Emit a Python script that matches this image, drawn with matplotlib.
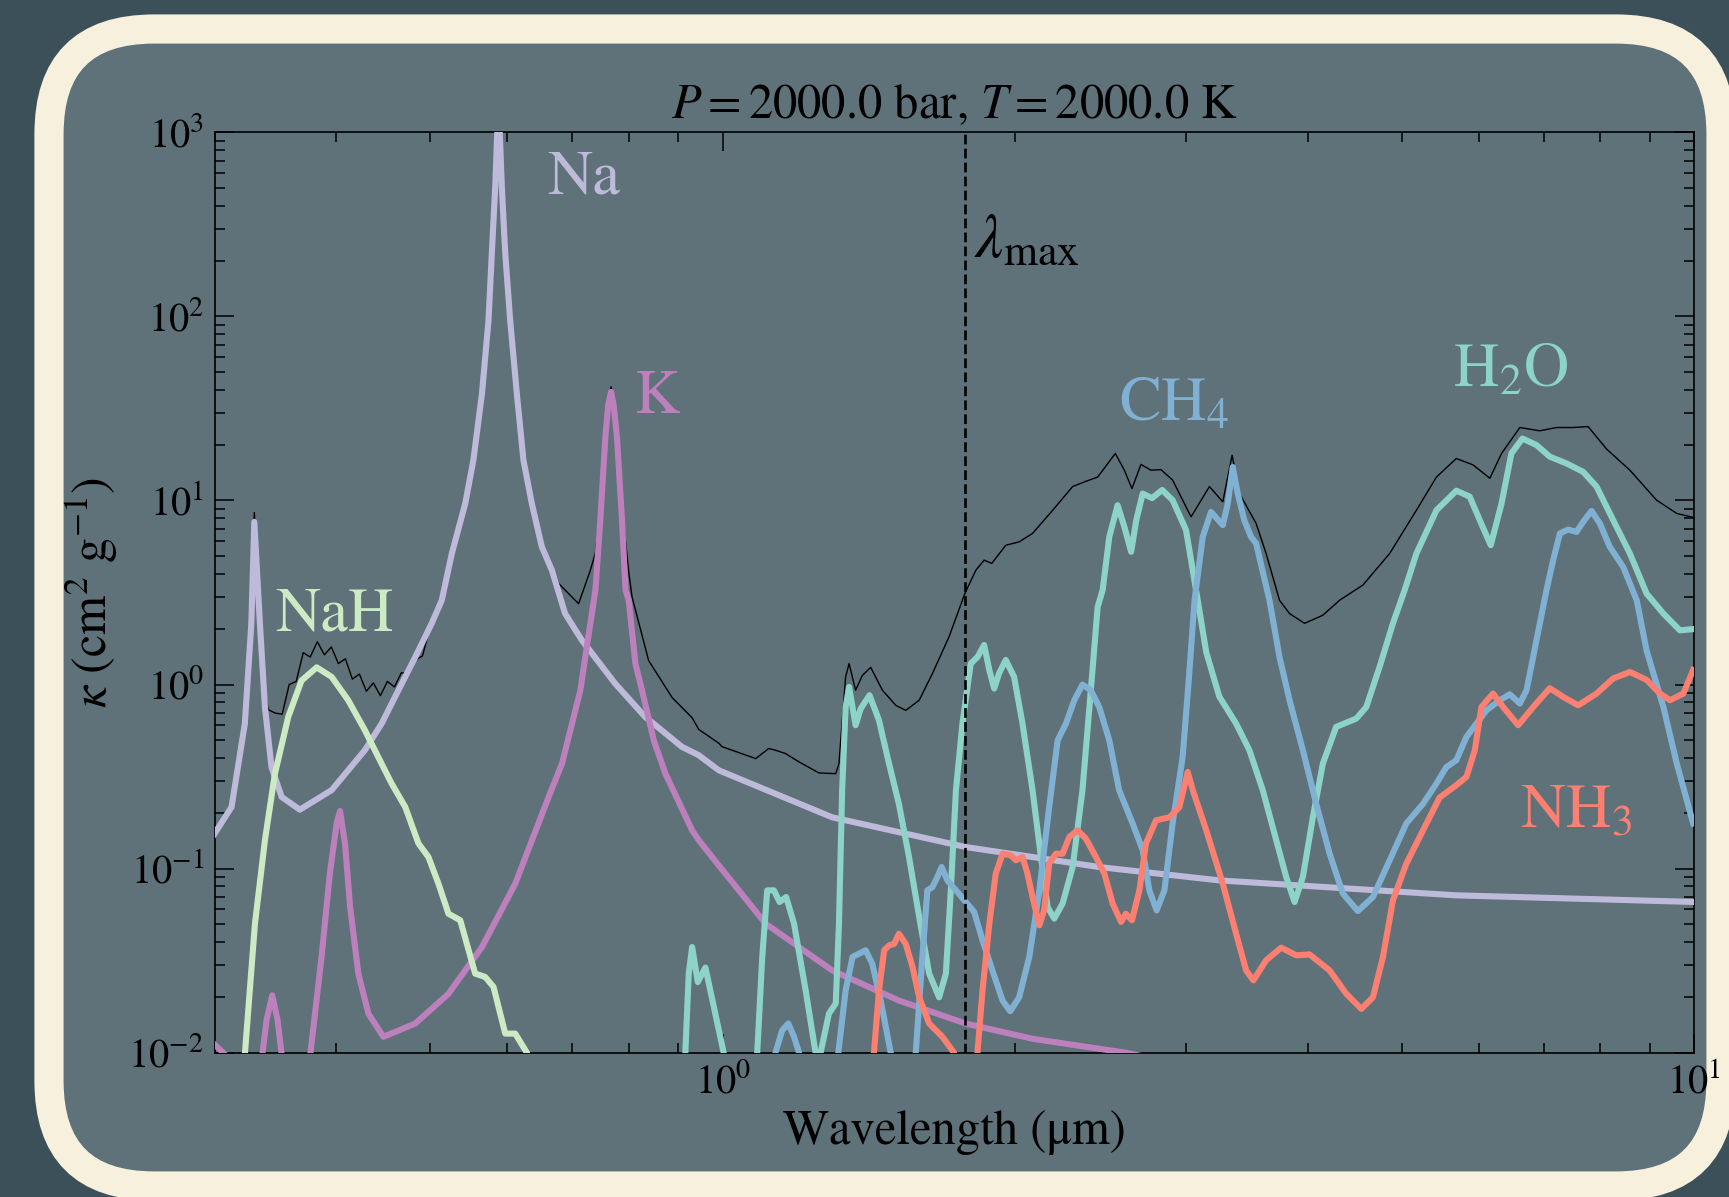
"""
Opacity plot: kappa vs wavelength for species at P = 2000 bar, T = 2000 K
"""
import matplotlib
matplotlib.use('Agg')
import matplotlib.pyplot as plt
from matplotlib.patches import FancyBboxPatch
from matplotlib.ticker import NullFormatter

plt.rcParams['font.family'] = 'STIXGeneral'
plt.rcParams['mathtext.fontset'] = 'stix'

# ---- data (wavelength in micron, kappa in cm^2/g) ----
na_wl = [0.299, 0.312, 0.322, 0.327, 0.3293, 0.3337, 0.3377, 0.343, 0.3514, 0.3668,
         0.3956, 0.428, 0.4454, 0.4634, 0.4823, 0.5015, 0.5136, 0.526, 0.543, 0.5536,
         0.565, 0.5738, 0.5783, 0.583, 0.5875, 0.5922, 0.597, 0.604, 0.6136, 0.6233,
         0.6358, 0.6511, 0.6668, 0.688, 0.716, 0.775, 0.832, 0.908, 0.9447, 0.9906,
         1.296, 1.779, 2.441, 3.245, 5.69, 10.0]
na_k = [0.152, 0.216, 0.614, 2.15, 7.65, 2.15, 0.755, 0.356, 0.245, 0.209,
        0.267, 0.44, 0.614, 0.931, 1.41, 2.15, 2.87, 5.15, 9.63, 16.6,
        38.2, 95.5, 220, 506, 1500, 506, 220, 95.5, 38.2, 16.6,
        9.63, 5.6, 4.18, 2.43, 1.74, 1.01, 0.667, 0.458, 0.413, 0.342,
        0.19, 0.131, 0.102, 0.0863, 0.0716, 0.0659]

k_wl = [0.299, 0.307, 0.31, 0.335, 0.339, 0.3436, 0.348, 0.352, 0.364, 0.3758,
        0.3862, 0.3939, 0.4003, 0.4035, 0.4083, 0.4133, 0.4214, 0.4316, 0.4472, 0.4823,
        0.5218, 0.565, 0.6113, 0.6617, 0.683, 0.7134, 0.7217, 0.7393, 0.7479, 0.757,
        0.762, 0.7673, 0.772, 0.778, 0.7874, 0.794, 0.8, 0.8128, 0.8256, 0.849,
        0.8728, 0.9298, 0.9447, 0.9906, 1.107, 1.296, 1.518, 1.779, 2.084, 2.6,
        3.0]
k_k = [0.0112, 0.0098, 0.008, 0.009, 0.015, 0.0205, 0.015, 0.009, 0.006, 0.0095,
       0.0331, 0.094, 0.176, 0.2056, 0.137, 0.0618, 0.0269, 0.0163, 0.0122, 0.0144,
       0.0209, 0.0375, 0.0828, 0.245, 0.372, 0.931, 1.41, 3.26, 7.81, 22.2,
       33.0, 38.9, 33.0, 22.2, 7.81, 3.26, 2.87, 1.3, 0.931, 0.498,
       0.328, 0.1615, 0.1426, 0.104, 0.0502, 0.028, 0.0192, 0.0144, 0.0119, 0.01,
       0.0085]

nah_wl = [0.318, 0.3221, 0.3298, 0.3377, 0.3458, 0.3569, 0.3683, 0.3818, 0.3956, 0.4114,
          0.428, 0.4418, 0.456, 0.471, 0.486, 0.4976, 0.5096, 0.5218, 0.5366, 0.5559,
          0.5692, 0.5806, 0.597, 0.6113, 0.6284, 0.64]
nah_k = [0.006, 0.01, 0.0502, 0.1426, 0.328, 0.667, 1.05, 1.24, 1.1, 0.822,
         0.565, 0.404, 0.29, 0.216, 0.137, 0.1156, 0.0828, 0.0569, 0.0524, 0.0269,
         0.0258, 0.0228, 0.0127, 0.0127, 0.01, 0.007]

h2o_wl = [0.90, 0.915, 0.9224, 0.9298, 0.9424, 0.9596, 0.975, 1.002, 1.02, 1.07,
          1.085, 1.098, 1.111, 1.129, 1.144, 1.162, 1.184, 1.217, 1.246, 1.253,
          1.261, 1.286, 1.307, 1.317, 1.327, 1.338, 1.349, 1.37, 1.387, 1.416,
          1.448, 1.483, 1.518, 1.555, 1.593, 1.631, 1.67, 1.697, 1.717, 1.738,
          1.765, 1.8, 1.829, 1.858, 1.881, 1.903, 1.925, 1.956, 1.995, 2.035,
          2.084, 2.126, 2.16, 2.194, 2.238, 2.292, 2.346, 2.393, 2.432, 2.461,
          2.5, 2.55, 2.591, 2.633, 2.665, 2.706, 2.767, 2.834, 2.905, 2.999,
          3.071, 3.146, 3.245, 3.377, 3.485, 3.597, 3.714, 3.803, 3.879, 3.956,
          4.051, 4.148, 4.281, 4.49, 4.598, 4.746, 4.898, 5.036, 5.178, 5.43,
          5.692, 5.875, 6.018, 6.176, 6.336, 6.486, 6.658, 6.883, 7.104, 7.39,
          7.689, 7.937, 8.257, 8.59, 8.937, 9.3, 9.67, 9.98]
h2o_k = [0.004, 0.01, 0.0269, 0.0375, 0.0242, 0.029, 0.0196, 0.01, 0.004, 0.004,
         0.01, 0.0331, 0.0762, 0.0762, 0.0659, 0.0701, 0.0502, 0.0218, 0.01, 0.008,
         0.01, 0.0163, 0.0185, 0.0502, 0.267, 0.755, 0.97, 0.601, 0.741, 0.875,
         0.64, 0.372, 0.225, 0.1156, 0.0546, 0.0269, 0.02, 0.0269, 0.0762, 0.267,
         0.614, 1.3, 1.41, 1.64, 1.2, 0.951, 1.15, 1.36, 1.1, 0.614,
         0.267, 0.1156, 0.0618, 0.0535, 0.0646, 0.102, 0.267, 0.931, 2.64, 3.26,
         6.34, 9.42, 7.19, 5.26, 7.81, 10.9, 10.3, 11.4, 10.04, 6.9,
         3.26, 1.5, 0.86, 0.614, 0.44, 0.267, 0.1426, 0.09, 0.0659, 0.09,
         0.19, 0.372, 0.589, 0.653, 0.755, 1.25, 2.15, 3.26, 5.15, 8.85,
         11.3, 10.5, 7.81, 5.71, 9.63, 18.0, 21.7, 20.0, 17.3, 15.9,
         14.3, 11.9, 7.81, 5.15, 3.12, 2.43, 1.97, 2.0]

ch4_wl = [1.12, 1.133, 1.151, 1.168, 1.184, 1.198, 1.21, 1.30, 1.315, 1.338,
          1.36, 1.381, 1.403, 1.425, 1.454, 1.489, 1.52, 1.57, 1.58, 1.605,
          1.624, 1.644, 1.663, 1.68, 1.703, 1.744, 1.779, 1.815, 1.851, 1.895,
          1.941, 1.977, 2.019, 2.068, 2.118, 2.168, 2.212, 2.256, 2.301, 2.346,
          2.393, 2.441, 2.5, 2.559, 2.642, 2.706, 2.749, 2.797, 2.849, 2.905,
          2.975, 3.022, 3.06, 3.12, 3.182, 3.272, 3.311, 3.35, 3.39, 3.443,
          3.499, 3.541, 3.655, 3.743, 3.833, 3.956, 4.083, 4.215, 4.35, 4.507,
          4.671, 4.86, 5.056, 5.26, 5.43, 5.559, 5.692, 5.83, 5.97, 6.113,
          6.31, 6.461, 6.617, 6.723, 6.883, 7.049, 7.161, 7.276, 7.42, 7.568,
          7.689, 7.843, 8.0, 8.19, 8.455, 8.73, 8.937, 9.3, 9.6, 9.98]
ch4_k = [0.005, 0.01, 0.0132, 0.0144, 0.0122, 0.01, 0.005, 0.005, 0.01, 0.0218,
         0.0331, 0.0345, 0.036, 0.0305, 0.0192, 0.01, 0.005, 0.005, 0.01, 0.0331,
         0.0762, 0.0794, 0.09, 0.102, 0.0863, 0.0746, 0.0659, 0.0581, 0.0408, 0.028,
         0.0192, 0.0168, 0.02, 0.0331, 0.0762, 0.216, 0.498, 0.614, 0.822, 1.0,
         0.931, 0.755, 0.498, 0.267, 0.176, 0.126, 0.0762, 0.0593, 0.0762, 0.176,
         0.404, 1.15, 2.87, 6.34, 8.67, 7.34, 9.63, 15.2, 10.9, 7.81,
         6.34, 5.84, 2.87, 1.41, 0.822, 0.44, 0.225, 0.1205, 0.0731, 0.0588,
         0.0701, 0.111, 0.176, 0.225, 0.29, 0.356, 0.388, 0.519, 0.614, 0.724,
         0.822, 0.885, 0.789, 0.931, 1.74, 3.26, 4.74, 6.62, 6.95, 6.75,
         7.65, 8.77, 7.5, 5.6, 4.35, 2.87, 1.53, 0.755, 0.372, 0.176]

nh3_wl = [1.42, 1.431, 1.448, 1.466, 1.483, 1.501, 1.518, 1.543, 1.568, 1.593,
          1.631, 1.683, 1.73, 1.76, 1.81, 1.829, 1.851, 1.881, 1.91, 1.941,
          1.98, 2.003, 2.035, 2.059, 2.084, 2.118, 2.142, 2.168, 2.203, 2.238,
          2.274, 2.319, 2.365, 2.422, 2.471, 2.52, 2.571, 2.6, 2.638, 2.685,
          2.727, 2.793, 2.884, 2.952, 3.011, 3.047, 3.146, 3.272, 3.377, 3.458,
          3.518, 3.626, 3.758, 3.894, 4.019, 4.215, 4.385, 4.544, 4.671, 4.783,
          4.898, 5.056, 5.26, 5.47, 5.692, 5.83, 5.947, 6.041, 6.209, 6.36,
          6.591, 6.83, 7.104, 7.333, 7.599, 7.937, 8.257, 8.59, 8.937, 9.225,
          9.447, 9.75, 9.98]
nh3_k = [0.005, 0.01, 0.0218, 0.036, 0.0383, 0.039, 0.0443, 0.039, 0.0292, 0.02,
         0.0144, 0.0122, 0.01, 0.006, 0.006, 0.01, 0.0218, 0.0502, 0.094, 0.1205,
         0.118, 0.111, 0.1156, 0.094, 0.0701, 0.0492, 0.0593, 0.1065, 0.1205, 0.1205,
         0.1486, 0.1615, 0.1455, 0.1156, 0.094, 0.0646, 0.0513, 0.0569, 0.0524, 0.0762,
         0.137, 0.183, 0.19, 0.216, 0.335, 0.267, 0.1615, 0.0828, 0.0443, 0.028,
         0.0247, 0.0318, 0.0372, 0.0338, 0.0342, 0.028, 0.0209, 0.0173, 0.02, 0.0331,
         0.0673, 0.1065, 0.1615, 0.243, 0.284, 0.315, 0.44, 0.755, 0.893, 0.755,
         0.601, 0.755, 0.955, 0.857, 0.771, 0.893, 1.08, 1.17, 1.06, 0.893,
         0.822, 0.893, 1.2]

total_wl = [0.299, 0.312, 0.322, 0.327, 0.3293, 0.3337, 0.3377, 0.3404,
            0.3460, 0.3518, 0.3577, 0.3637, 0.3698, 0.3760, 0.3824, 0.3888, 0.3953, 0.4019,
            0.4087, 0.4155, 0.4225, 0.4295, 0.4367, 0.4440, 0.4515, 0.4591, 0.4667, 0.4746,
            0.4826, 0.4906, 0.5015, 0.5136, 0.526, 0.543, 0.5536, 0.565, 0.5738, 0.5783,
            0.583, 0.5875, 0.5922, 0.597, 0.604, 0.6136, 0.6233, 0.6358, 0.6511, 0.6668,
            0.6775, 0.7104, 0.7305, 0.7393, 0.7479, 0.757, 0.762, 0.7673, 0.772, 0.778,
            0.7874, 0.8, 0.8063, 0.8387, 0.8867, 0.9298, 0.9447,
            0.9906, 0.998, 1.081, 1.115, 1.133, 1.16, 1.198, 1.256, 1.307, 1.317,
            1.338, 1.349, 1.37, 1.392, 1.42, 1.46, 1.507, 1.543, 1.593, 1.644,
            1.71, 1.775, 1.822, 1.858, 1.892, 1.956, 2.019, 2.084, 2.186, 2.292,
            2.365, 2.432, 2.536, 2.591, 2.638, 2.695, 2.76, 2.826, 2.905, 3.035,
            3.17, 3.272, 3.345, 3.404, 3.541, 3.626, 3.743, 3.833, 3.972, 4.148,
            4.316, 4.561, 4.86, 5.178, 5.43, 5.692, 5.923, 6.163, 6.336, 6.617,
            6.938, 7.219, 7.51, 7.78, 8.13, 8.59, 9.15, 9.6, 9.98]
total_k = [0.155, 0.22, 0.63, 2.2, 8.6, 2.2, 0.9, 0.73,
           0.70, 0.69, 1.0, 1.04, 1.49, 1.41, 1.71, 1.45, 1.60, 1.30,
           1.38, 1.07, 1.14, 0.92, 1.02, 0.87, 1.04, 0.97, 1.16, 1.14,
           1.36, 1.43, 2.2, 2.95, 5.2, 9.8, 16.8, 38.5, 96, 222,
           510, 1500, 510, 222, 96, 38.5, 16.8, 9.8, 5.8, 4.4,
           3.54, 2.75, 4.18, 5.2, 9.5, 23.5, 34.5, 41.4, 34.5, 24.0,
           9.2, 4.1, 3.0, 1.35, 0.85, 0.66, 0.57,
           0.48, 0.46, 0.396, 0.449, 0.44, 0.422, 0.38, 0.331, 0.328, 0.372,
           1.1, 1.3, 0.931, 1.12, 1.24, 0.931, 0.771, 0.724, 0.822, 1.15,
           1.82, 3.12, 4.18, 4.74, 4.55, 5.71, 5.96, 6.62, 8.85, 11.9,
           12.7, 13.4, 18.0, 14.6, 11.6, 15.7, 14.6, 14.7, 12.9, 8.15,
           11.9, 9.83, 17.6, 10.9, 7.5, 5.15, 2.87, 2.43, 2.15, 2.38,
           2.87, 3.47, 5.15, 8.85, 13.4, 16.9, 15.6, 13.2, 18.0, 24.9,
           23.9, 24.9, 24.9, 25.2, 19.0, 14.6, 10.04, 8.5, 8.09]

lam_max = 1.775

series = [
    (na_wl, na_k, '#bebada'),
    (k_wl, k_k, '#bc80bd'),
    (nah_wl, nah_k, '#ccebc5'),
    (h2o_wl, h2o_k, '#8dd3c7'),
    (ch4_wl, ch4_k, '#80b1d3'),
    (nh3_wl, nh3_k, '#fb8072'),
]

# ---- figure with rounded cream frame ----
fig = plt.figure(figsize=(17.29, 11.97), dpi=100)
fig.patch.set_facecolor('#3c505a')

bg = fig.add_axes([0, 0, 1, 1])
bg.set_xlim(0, 1729)
bg.set_ylim(1197, 0)
bg.axis('off')
frame = FancyBboxPatch((49, 29), 1672, 1157, boxstyle='round,pad=0,rounding_size=105',
                       fc='#5f7179', ec='#f6f0dd', lw=21)
bg.add_patch(frame)

ax = fig.add_axes([215 / 1729, 1 - 1052.7 / 1197, 1479 / 1729, 920.4 / 1197])
ax.set_facecolor('none')

ax.plot(total_wl, total_k, color='black', lw=1.0, zorder=2)
for wl, kap, col in series:
    ax.plot(wl, kap, color=col, lw=4.4, zorder=3, solid_joinstyle='round')
ax.axvline(lam_max, color='black', lw=1.9, ls='--', zorder=4)

ax.set_xscale('log')
ax.set_yscale('log')
ax.set_xlim(0.3, 10)
ax.set_ylim(1e-2, 1e3)
ax.xaxis.set_minor_formatter(NullFormatter())

ax.tick_params(which='both', direction='in', top=True, right=True, labelsize=29, width=1.1)
ax.tick_params(which='major', length=14, pad=8)
ax.tick_params(which='minor', length=7)
for sp in ax.spines.values():
    sp.set_linewidth(1.2)

ax.set_title(r'$P = 2000.0$ bar, $T = 2000.0$ K', fontsize=35, pad=10)
ax.set_xlabel('Wavelength (μm)', fontsize=35, labelpad=5)
ax.set_ylabel(r'$\kappa$ (cm$^2$ g$^{-1}$)', fontsize=36, labelpad=6)

# species labels
ax.text(0.659, 466, 'Na', color='#bebada', fontsize=45, ha='left', va='baseline')
ax.text(0.8128, 29.9, 'K', color='#bc80bd', fontsize=45, ha='left', va='baseline')
ax.text(0.3458, 1.97, 'NaH', color='#ccebc5', fontsize=45, ha='left', va='baseline')
ax.text(2.559, 27.3, r'CH$_4$', color='#80b1d3', fontsize=45, ha='left', va='baseline')
ax.text(5.648, 41.4, r'H$_2$O', color='#8dd3c7', fontsize=45, ha='left', va='baseline')
ax.text(6.617, 0.168, r'NH$_3$', color='#fb8072', fontsize=45, ha='left', va='baseline')
ax.text(1.815, 211, r'$\lambda_{\rm max}$', color='black', fontsize=45, ha='left', va='baseline')

fig.savefig('out.png', dpi=100, facecolor=fig.get_facecolor())
plt.close(fig)
